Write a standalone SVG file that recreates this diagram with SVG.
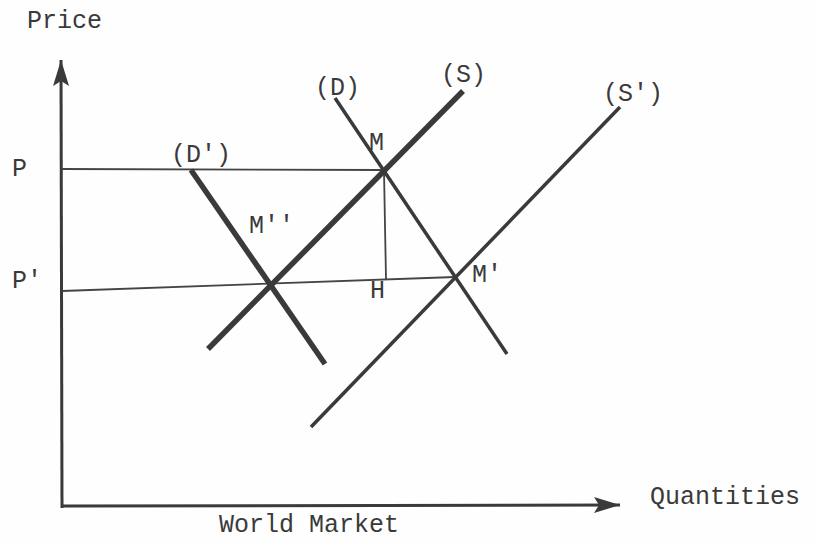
<svg xmlns="http://www.w3.org/2000/svg" width="814" height="542" viewBox="0 0 814 542">
<style>
.t{font-family:"Liberation Mono","DejaVu Sans Mono",monospace;font-size:25px;fill:#3a3a3a}
.ax{stroke:#3a3a3a;stroke-width:3;fill:none}
.thin{stroke:#444;stroke-width:1.8;fill:none}
.thick{stroke:#3a3a3a;stroke-width:5.5;fill:none;stroke-linecap:butt}
.med{stroke:#3a3a3a;stroke-width:3.5;fill:none}
</style>
<defs>
<marker id="ah" markerWidth="30" markerHeight="24" refX="26" refY="10" orient="auto" markerUnits="userSpaceOnUse">
<path d="M0,2 L26,10 L0,18 L5,10 Z" fill="#3a3a3a"/>
</marker>
</defs>
<rect width="814" height="542" fill="#fefefe"/>
<g id="axes">
<line class="ax" x1="62" y1="508" x2="61" y2="60" marker-end="url(#ah)"/>
<line class="ax" x1="62" y1="506" x2="620" y2="505" marker-end="url(#ah)"/>
</g>
<g id="connectors">
<line class="thin" x1="62" y1="169" x2="383" y2="170"/>
<line class="thin" x1="62" y1="291" x2="455" y2="277"/>
<line class="thin" x1="384" y1="171" x2="386" y2="279"/>
</g>
<g id="curve-S"><line class="thick" x1="208" y1="349" x2="463" y2="91"/></g>
<g id="curve-Dp"><line class="thick" x1="191" y1="170" x2="325" y2="364"/></g>
<g id="curve-D"><line class="med" x1="335" y1="98" x2="507" y2="354"/></g>
<g id="curve-Sp"><line class="med" x1="311" y1="427" x2="620" y2="107"/></g>
<g id="labels">
<text class="t" x="27" y="28">Price</text>
<text class="t" x="12" y="176">P</text>
<text class="t" x="12" y="288">P'</text>
<text class="t" x="315" y="95">(D)</text>
<text class="t" x="441" y="82">(S)</text>
<text class="t" x="171" y="162">(D')</text>
<text class="t" x="603" y="101">(S')</text>
<text class="t" x="369" y="150">M</text>
<text class="t" x="249" y="233">M''</text>
<text class="t" x="370" y="298">H</text>
<text class="t" x="472" y="282">M'</text>
<text class="t" x="650" y="504">Quantities</text>
<text class="t" x="219" y="532">World Market</text>
</g>
</svg>
